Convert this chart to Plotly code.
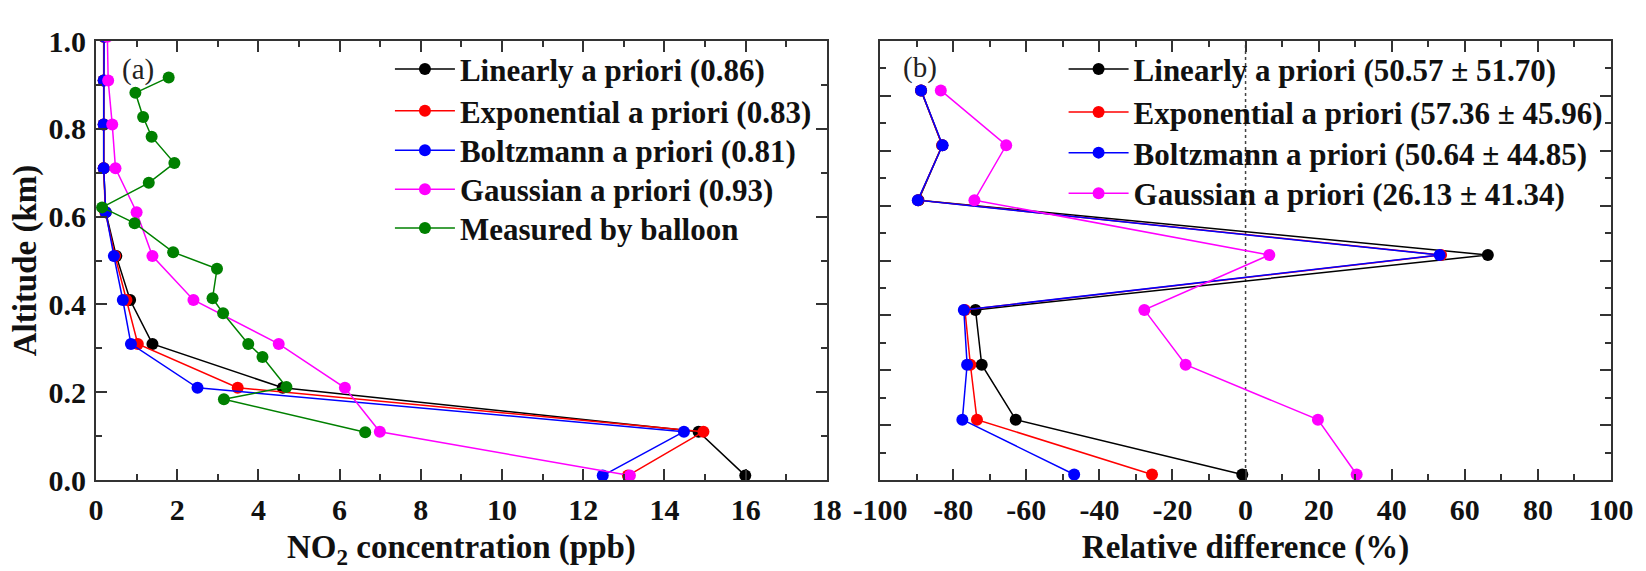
import plotly.graph_objects as go

# ---------------- Panel (a) data ----------------
altitude_km = [0.01, 0.11, 0.21, 0.31, 0.41, 0.51, 0.61, 0.71, 0.81, 0.91, 1.01]
linear_ppb = [15.99, 14.84, 4.60, 1.39, 0.84, 0.50, 0.24, 0.19, 0.19, 0.19, 0.19]
expo_ppb = [13.10, 14.96, 3.49, 1.03, 0.75, 0.47, 0.23, 0.19, 0.19, 0.19, 0.19]
boltz_ppb = [12.48, 14.48, 2.50, 0.86, 0.66, 0.44, 0.24, 0.19, 0.19, 0.19, 0.20]
gauss_ppb = [13.15, 6.99, 6.13, 4.50, 2.40, 1.39, 1.00, 0.48, 0.40, 0.30, 0.28]

balloon_alt_km = [0.109, 0.184, 0.212, 0.280, 0.310, 0.380, 0.414, 0.481, 0.519,
                  0.585, 0.621, 0.677, 0.722, 0.782, 0.827, 0.882, 0.917]
balloon_ppb = [6.63, 3.15, 4.69, 4.10, 3.75, 3.13, 2.87, 2.98, 1.90,
               0.95, 0.15, 1.30, 1.93, 1.37, 1.16, 0.97, 1.79]

names_a = ["Linearly a priori (0.86)", "Exponential a priori (0.83)",
           "Boltzmann a priori (0.81)", "Gaussian a priori (0.93)",
           "Measured by balloon"]

xticks_a = [0, 2, 4, 6, 8, 10, 12, 14, 16, 18]
xticklabels_a = ["0", "2", "4", "6", "8", "10", "12", "14", "16", "18"]

# ---------------- Panel (b) data ----------------
layer_b = [0.1, 1.1, 2.1, 3.1, 4.1, 5.1, 6.1, 7.1]
linear_rel = [-0.9, -62.9, -72.2, -73.9, 66.3, -89.5, -83.0, -88.8]
expo_rel = [-25.6, -73.5, -75.3, -76.8, 53.5, -89.6, -83.0, -88.8]
boltz_rel = [-46.9, -77.5, -76.2, -77.1, 53.1, -89.7, -82.9, -88.8]
gauss_rel = [30.4, 19.8, -16.4, -27.7, 6.5, -74.2, -65.5, -83.4]

names_b = ["Linearly a priori (50.57 \u00b1 51.70)",
           "Exponential a priori (57.36 \u00b1 45.96)",
           "Boltzmann a priori (50.64 \u00b1 44.85)",
           "Gaussian a priori (26.13 \u00b1 41.34)"]

xticks_b = [-100, -80, -60, -40, -20, 0, 20, 40, 60, 80, 100]
xticklabels_b = ["-100", "-80", "-60", "-40", "-20", "0", "20", "40", "60", "80", "100"]

colors = ["#000000", "#ff0000", "#0000ff", "#ff00ff", "#008000"]

FONT = "Liberation Serif, Times New Roman, serif"
TXT = "#111111"
AX = "#333333"

# legend row layout (pixel rows of the reference)
rows_a = [69.5, 111.7, 151.7, 191.0, 230.0]
rows_b = [69.5, 113.0, 154.0, 195.0]
PLOT_L, PLOT_W, PLOT_B, PLOT_H = 96, 1536, 484, 443

fig = go.Figure()
legends = {}


def legend_cfg(px_x, px_y):
    return dict(x=(px_x - PLOT_L) / PLOT_W, y=(PLOT_B - px_y) / PLOT_H,
                xanchor="left", yanchor="middle",
                bgcolor="rgba(0,0,0,0)", borderwidth=0, itemwidth=60,
                font=dict(family=FONT, size=31, color=TXT, weight="bold"))


k = 0
series_a = [linear_ppb, expo_ppb, boltz_ppb, gauss_ppb, balloon_ppb]
alts_a = [altitude_km] * 4 + [balloon_alt_km]
for i, (vals, alts, name, col) in enumerate(zip(series_a, alts_a, names_a, colors)):
    k += 1
    lname = "legend" if k == 1 else f"legend{k}"
    legends[lname] = legend_cfg(394, rows_a[i])
    fig.add_trace(go.Scatter(x=vals, y=alts, mode="lines+markers", name=name,
                             line=dict(color=col, width=1.5),
                             marker=dict(color=col, size=12),
                             xaxis="x", yaxis="y", legend=lname))

series_b = [linear_rel, expo_rel, boltz_rel, gauss_rel]
for i, (vals, name, col) in enumerate(zip(series_b, names_b, colors[:4])):
    k += 1
    lname = f"legend{k}"
    legends[lname] = legend_cfg(1077, rows_b[i])
    fig.add_trace(go.Scatter(x=vals, y=layer_b, mode="lines+markers", name=name,
                             line=dict(color=col, width=1.5),
                             marker=dict(color=col, size=12),
                             xaxis="x2", yaxis="y2", legend=lname))

minor_common = dict(ticks="inside", ticklen=6, tickwidth=2, tickcolor=AX)
axis_common = dict(
    showline=True, linecolor=AX, linewidth=2, mirror="ticks",
    ticks="inside", ticklen=11, tickwidth=2, tickcolor=AX,
    showgrid=False, zeroline=False,
    tickfont=dict(family=FONT, size=30, color=TXT, weight="bold"),
)
title_font = dict(family=FONT, size=33, color=TXT, weight="bold")

fig.update_layout(
    width=1646, height=571,
    margin=dict(l=PLOT_L, r=14, t=41, b=87),
    plot_bgcolor="white", paper_bgcolor="white",
    font=dict(family=FONT, color=TXT),
    showlegend=True,
    xaxis=dict(domain=[0, 741 / 1536], range=[0, 18],
               tickmode="array", tickvals=xticks_a, ticktext=xticklabels_a,
               minor=dict(dtick=1, tick0=0, **minor_common),
               ticklabelstandoff=2,
               title=dict(text="NO<sub>2</sub> concentration (ppb)", standoff=10, font=title_font),
               anchor="y", **axis_common),
    yaxis=dict(domain=[0, 1], range=[0, 1.0], dtick=0.2, tick0=0, tickformat=".1f",
               minor=dict(dtick=0.1, tick0=0, **minor_common),
               ticklabelstandoff=2,
               title=dict(text="Altitude (km)", standoff=2, font=title_font),
               anchor="x", **axis_common),
    xaxis2=dict(domain=[795 / 1536, 1], range=[-100, 100],
                tickmode="array", tickvals=xticks_b, ticktext=xticklabels_b,
                minor=dict(dtick=10, tick0=0, **minor_common),
                ticklabelstandoff=2,
                title=dict(text="Relative difference (%)", standoff=10, font=title_font),
                anchor="y2", **axis_common),
    yaxis2=dict(domain=[0, 1], range=[0, 8], dtick=1, tick0=0, showticklabels=False,
                minor=dict(dtick=0.5, tick0=0, **minor_common),
                anchor="x2", **axis_common),
    annotations=[
        dict(text="(a)", xref="paper", yref="paper", x=(138.5 - PLOT_L) / PLOT_W, y=(PLOT_B - 70) / PLOT_H,
             showarrow=False, xanchor="center", yanchor="middle",
             font=dict(family=FONT, size=29, color="#222222")),
        dict(text="(b)", xref="paper", yref="paper", x=(931.5 - PLOT_L) / PLOT_W, y=(PLOT_B - 68) / PLOT_H,
             showarrow=False, xanchor="center", yanchor="middle",
             font=dict(family=FONT, size=29, color="#222222")),
    ],
    shapes=[dict(type="line", xref="x2", yref="y2 domain", x0=0, x1=0, y0=0, y1=1,
                 line=dict(color="#444444", width=1.5, dash="dot"), layer="below")],
)
fig.update_layout(**legends)

fig.write_html("out.html", config={"displayModeBar": False},
               post_script="document.body.style.margin='0';document.body.style.overflow='hidden';")
